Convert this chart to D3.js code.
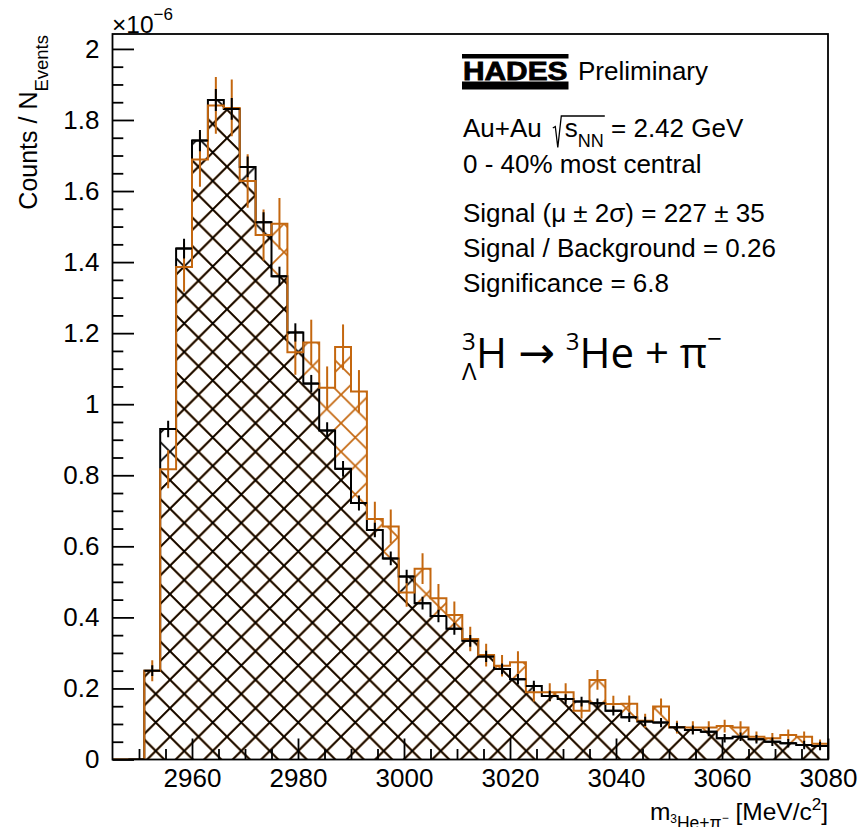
<!DOCTYPE html>
<html>
<head>
<meta charset="utf-8">
<script src="https://cdn.jsdelivr.net/npm/d3@7"></script>
<style>
  html, body { margin: 0; padding: 0; background: #ffffff; }
  svg { display: block; }
  text { font-family: "Liberation Sans", Arial, Helvetica, sans-serif; fill: #000; }
</style>
</head>
<body>
<svg id="chart" width="860" height="827"></svg>
<script>
// Invariant-mass binning (MeV/c^2)
const massStart = 2945;
const massEnd = 3080;
const binWidth = 3;

// Mixed-event background, normalised per event (units of 1e-6)
const mixedBackground = [
  0, 0, 0.250, 0.930, 1.438, 1.742, 1.856, 1.831, 1.668, 1.512,
  1.360, 1.202, 1.058, 0.926, 0.818, 0.722, 0.646, 0.566, 0.515, 0.440,
  0.404, 0.368, 0.334, 0.290, 0.255, 0.226, 0.207, 0.179, 0.170, 0.163,
  0.158, 0.137, 0.119, 0.107, 0.104, 0.091, 0.083, 0.078, 0.060, 0.064,
  0.057, 0.050, 0.046, 0.041, 0.038
];
const mixedErrors = [
  0, 0, 0.0152, 0.0232, 0.0277, 0.0301, 0.0309, 0.0307, 0.0295, 0.0283,
  0.0271, 0.0257, 0.0244, 0.0232, 0.0221, 0.0211, 0.0203, 0.0194, 0.0188, 0.0178,
  0.0174, 0.0169, 0.0164, 0.0158, 0.0153, 0.0149, 0.0146, 0.0142, 0.0140, 0.0139,
  0.0138, 0.0135, 0.0132, 0.0130, 0.0129, 0.0127, 0.0125, 0.0125, 0.0121, 0.0122,
  0.0121, 0.0119, 0.0119, 0.0118, 0.0117
];

// Same-event distribution, normalised per event (units of 1e-6)
const sameEvent = [
  0, 0, 0.250, 0.817, 1.386, 1.689, 1.841, 1.834, 1.628, 1.476,
  1.508, 1.146, 1.174, 1.046, 1.161, 1.036, 0.677, 0.656, 0.470, 0.537,
  0.454, 0.407, 0.339, 0.294, 0.264, 0.274, 0.189, 0.189, 0.189, 0.137,
  0.224, 0.156, 0.157, 0.109, 0.149, 0.091, 0.090, 0.090, 0.094, 0.090,
  0.064, 0.060, 0.069, 0.064, 0.044
];
const sameEventErrors = [
  0, 0, 0.0295, 0.0533, 0.0695, 0.0767, 0.0801, 0.0799, 0.0753, 0.0717,
  0.0725, 0.0632, 0.0639, 0.0603, 0.0636, 0.0601, 0.0485, 0.0478, 0.0404, 0.0432,
  0.0398, 0.0376, 0.0344, 0.0320, 0.0303, 0.0309, 0.0256, 0.0256, 0.0256, 0.0218,
  0.0279, 0.0233, 0.0234, 0.0195, 0.0228, 0.0178, 0.0177, 0.0177, 0.0181, 0.0177,
  0.0149, 0.0145, 0.0155, 0.0149, 0.0124
];

// Axis ticks
const xMajorTicks = [2960, 2980, 3000, 3020, 3040, 3060, 3080];
const xMinorTicks = [2950, 2955, 2965, 2970, 2975, 2985, 2990, 2995, 3005, 3010, 3015,
                     3025, 3030, 3035, 3045, 3050, 3055, 3065, 3070, 3075];
const yMajorTicks = [0, 0.2, 0.4, 0.6, 0.8, 1.0, 1.2, 1.4, 1.6, 1.8, 2.0];
const yTickLabels = ["0", "0.2", "0.4", "0.6", "0.8", "1", "1.2", "1.4", "1.6", "1.8", "2"];
const yMinorTicks = [0.05, 0.1, 0.15, 0.25, 0.3, 0.35, 0.45, 0.5, 0.55, 0.65, 0.7, 0.75,
                     0.85, 0.9, 0.95, 1.05, 1.1, 1.15, 1.25, 1.3, 1.35, 1.45, 1.5, 1.55,
                     1.65, 1.7, 1.75, 1.85, 1.9, 1.95];
const yTop = 2.042;

// Annotation lines
const statLines = [
  "Signal (\u03bc \u00b1 2\u03c3) = 227 \u00b1 35",
  "Signal / Background = 0.26",
  "Significance = 6.8"
];

const ORANGE = "#c4670f";
const svg = d3.select("#chart");
const frame = { left: 112.5, right: 828, top: 34, bottom: 759.5 };

const x = d3.scaleLinear().domain([massStart, massEnd]).range([frame.left, frame.right]);
const y = d3.scaleLinear().domain([0, yTop]).range([frame.bottom, frame.top]);

const bins = sameEvent.map((v, i) => ({
  i,
  lo: massStart + i * binWidth,
  hi: massStart + (i + 1) * binWidth,
  bg: mixedBackground[i], bgErr: mixedErrors[i],
  se: v, seErr: sameEventErrors[i]
}));

// Cross-hatch pattern (same lattice for both histograms)
const defs = svg.append("defs");
function hatch(id, color) {
  const P = 28.5;
  const p = defs.append("pattern").attr("id", id)
    .attr("patternUnits", "userSpaceOnUse")
    .attr("width", P).attr("height", P)
    .attr("x", 170).attr("y", 736.7);
  // both diagonal families, with the neighbours that touch the tile corners
  p.append("path")
    .attr("d",
      `M${-P},0L0,${P}M0,0L${P},${P}M${P},0L${2 * P},${P}` +
      `M${-P},${P}L${P},${-P}M0,${P}L${P},0M0,${2 * P}L${2 * P},0`)
    .attr("stroke", color).attr("stroke-width", 1.7).attr("fill", "none");
}
hatch("hatchOrange", ORANGE);
hatch("hatchBlack", "#000");

defs.append("clipPath").attr("id", "plotClip")
  .append("rect").attr("x", frame.left).attr("y", frame.top)
  .attr("width", frame.right - frame.left).attr("height", frame.bottom - frame.top);

const stepPoints = key => bins.map(b => ({ m: b.lo, v: b[key] }))
  .concat([{ m: massEnd, v: bins[bins.length - 1][key] }]);

const area = d3.area().curve(d3.curveStepAfter)
  .x(d => x(d.m)).y0(y(0)).y1(d => y(d.v));
const line = d3.line().curve(d3.curveStepAfter)
  .x(d => x(d.m)).y(d => y(d.v));

const plot = svg.append("g").attr("clip-path", "url(#plotClip)");

// hatched fills: same-event first, background over it
plot.append("path").attr("d", area(stepPoints("se"))).attr("fill", "url(#hatchOrange)");
plot.append("path").attr("d", area(stepPoints("bg"))).attr("fill", "url(#hatchBlack)");

// outlines
plot.append("path").attr("d", line(stepPoints("bg")))
  .attr("fill", "none").attr("stroke", "#000").attr("stroke-width", 2);
plot.append("path").attr("d", line([{ m: massStart, v: 0 }].concat(stepPoints("se"))))
  .attr("fill", "none").attr("stroke", ORANGE).attr("stroke-width", 2);

// same-event error bars
const seBars = plot.append("g").attr("stroke", ORANGE).attr("stroke-width", 2);
seBars.selectAll("line.v").data(bins.filter(b => b.se > 0)).join("line")
  .attr("x1", b => x((b.lo + b.hi) / 2)).attr("x2", b => x((b.lo + b.hi) / 2))
  .attr("y1", b => y(b.se - b.seErr)).attr("y2", b => y(b.se + b.seErr));

// background error bars with bin-wide horizontal bars
const bgBars = plot.append("g").attr("stroke", "#000").attr("stroke-width", 2);
const bgData = bins.filter(b => b.i > 0);
bgBars.selectAll("line.h").data(bgData).join("line").attr("class", "h")
  .attr("x1", b => x(b.lo)).attr("x2", b => x(b.hi))
  .attr("y1", b => y(b.bg)).attr("y2", b => y(b.bg));
bgBars.selectAll("line.v").data(bgData.filter(b => b.bg > 0)).join("line").attr("class", "v")
  .attr("x1", b => x((b.lo + b.hi) / 2)).attr("x2", b => x((b.lo + b.hi) / 2))
  .attr("y1", b => y(b.bg - b.bgErr)).attr("y2", b => y(b.bg + b.bgErr));

// axes
const FONT = '"Liberation Sans", Arial, Helvetica, sans-serif';
function styleAxis(g) {
  g.select(".domain").remove();
  g.selectAll(".tick line").attr("stroke", "#000").attr("stroke-width", 1.8);
  g.selectAll(".tick text").attr("fill", "#000");
  g.attr("font-family", FONT).attr("font-size", 26);
}
svg.append("g").attr("transform", `translate(0,${frame.bottom})`)
  .call(d3.axisBottom(x).tickValues(xMinorTicks).tickSizeInner(-10.5).tickSizeOuter(0).tickFormat(""))
  .call(styleAxis);
svg.append("g").attr("transform", `translate(0,${frame.bottom})`)
  .call(d3.axisBottom(x).tickValues(xMajorTicks).tickSizeInner(-21).tickSizeOuter(0)
        .tickPadding(9).tickFormat(d3.format("d")))
  .call(styleAxis);
svg.append("g").attr("transform", `translate(${frame.left},0)`)
  .call(d3.axisLeft(y).tickValues(yMinorTicks).tickSizeInner(-10.8).tickSizeOuter(0).tickFormat(""))
  .call(styleAxis);
svg.append("g").attr("transform", `translate(${frame.left},0)`)
  .call(d3.axisLeft(y).tickValues(yMajorTicks).tickSizeInner(-21.5).tickSizeOuter(0)
        .tickPadding(13).tickFormat((d, i) => yTickLabels[i]))
  .call(styleAxis);

// frame
svg.append("rect").attr("x", frame.left).attr("y", frame.top)
  .attr("width", frame.right - frame.left).attr("height", frame.bottom - frame.top)
  .attr("fill", "none").attr("stroke", "#000").attr("stroke-width", 1.8);

// exponent
const expo = svg.append("text").attr("x", 112).attr("y", 33).attr("font-size", 24.5);
expo.append("tspan").text("\u00d710");
expo.append("tspan").attr("font-size", 17).attr("dy", -13).text("\u22126");

// y title
const yt = svg.append("text").attr("transform", "translate(37,35) rotate(-90)")
  .attr("text-anchor", "end").attr("font-size", 25);
yt.append("tspan").text("Counts / N");
yt.append("tspan").attr("font-size", 18.5).attr("dy", 11).text("Events");

// x title
const xt = svg.append("text").attr("x", 828).attr("y", 819.5)
  .attr("text-anchor", "end").attr("font-size", 24.5);
xt.append("tspan").text("m");
xt.append("tspan").attr("font-size", 12).attr("dy", 3).text("3");
xt.append("tspan").attr("font-size", 17.5).attr("dy", 6).text("He+\u03c0");
xt.append("tspan").attr("font-size", 12).attr("dy", -7).text("\u2212");
xt.append("tspan").attr("dy", -2).text(" [MeV/c");
xt.append("tspan").attr("font-size", 17).attr("dy", -10).text("2");
xt.append("tspan").attr("dy", 10).text("]");

// HADES logo + Preliminary
const logo = svg.append("g");
logo.append("rect").attr("x", 462).attr("y", 54).attr("width", 106.5).attr("height", 4.5).attr("fill", "#000");
logo.append("rect").attr("x", 462).attr("y", 81.5).attr("width", 106.5).attr("height", 8).attr("fill", "#000");
logo.append("text").attr("x", 463).attr("y", 80)
  .attr("font-family", '"DejaVu Serif", serif').attr("font-weight", "bold")
  .attr("font-size", 26.5).attr("textLength", 104.5).attr("lengthAdjust", "spacingAndGlyphs")
  .attr("stroke", "#000").attr("stroke-width", 0.8)
  .text("HADES");
svg.append("text").attr("x", 578).attr("y", 80).attr("font-size", 26).text("Preliminary");

// collision system
const sys = svg.append("text").attr("x", 463).attr("y", 136.5).attr("font-size", 26);
sys.append("tspan").text("Au+Au");
sys.append("tspan").attr("dx", 23).text("s");
sys.append("tspan").attr("font-size", 18).attr("dy", 10).text("NN");
sys.append("tspan").attr("dy", -10).text(" = 2.42 GeV");
{
  const node = sys.node();
  const sBox = node.getExtentOfChar(5);
  const nnEnd = node.getExtentOfChar(7);
  const x0 = sBox.x - 12, xr = sBox.x - 3.5, top = 116;
  svg.append("path")
    .attr("d", `M${x0},128L${x0 + 2.5},126.5L${x0 + 5},147.5L${xr},${top}L${nnEnd.x + nnEnd.width + 1},${top}`)
    .attr("fill", "none").attr("stroke", "#000").attr("stroke-width", 1.3);
}
svg.append("text").attr("x", 463).attr("y", 172.5).attr("font-size", 26).text("0 - 40% most central");

svg.selectAll("text.stat").data(statLines).join("text").attr("class", "stat")
  .attr("x", 463).attr("y", (d, i) => 222 + i * 35).attr("font-size", 26).text(d => d);

// decay channel
const DF = '"Open Sans", "Noto Sans", sans-serif';
const dec = svg.append("g");
dec.append("text").attr("x", 462).attr("y", 350).attr("font-size", 24).style("font-family", DF).text("3");
dec.append("text").attr("x", 462).attr("y", 380).attr("font-size", 24).style("font-family", DF).text("\u039b");
const ch = dec.append("text").attr("x", 476).attr("y", 368).attr("font-size", 42).style("font-family", DF);
ch.append("tspan").text("H ");
ch.append("tspan").style("font-family", '"DejaVu Sans", sans-serif').attr("font-size", 44).text("\u2192");
ch.append("tspan").text(" ");
ch.append("tspan").attr("font-size", 24).attr("dy", -18).text("3");
ch.append("tspan").attr("dy", 18).text("He + \u03c0");
ch.append("tspan").attr("font-size", 26).attr("dy", -20).text("\u2212");
</script>
</body>
</html>
